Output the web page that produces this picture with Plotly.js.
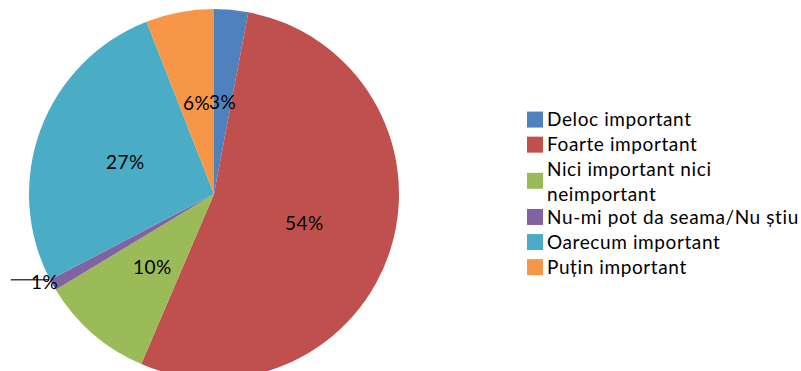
<!DOCTYPE html>
<html>
<head>
<meta charset="utf-8">
<script src="https://cdn.plot.ly/plotly-3.0.1.min.js"></script>
<style>
html,body{margin:0;padding:0;overflow:hidden;background:#fff;width:801px;height:371px;}
#chart{width:840px;height:380px;}
.legendtext{font-size:19px !important;letter-spacing:0.6px;}
.annotation-text{letter-spacing:0.5px;}
</style>
</head>
<body>
<div id="chart"></div>
<script>
const categories = ["Deloc important", "Foarte important", "Nici important nici<br>neimportant", "Nu-mi pot da seama/Nu știu", "Oarecum important", "Puțin important"];
const values = [3, 54, 10, 1, 27, 6];
const colors = ["#4F81BD", "#C0504D", "#9BBB59", "#8064A2", "#4BACC6", "#F79646"];

const W = 840, H = 380;
const cx = 214, cyTop = 194, R = 185;
const FONT = "Lato, 'Open Sans', sans-serif";

const total = values.reduce((a, b) => a + b, 0);
const annotations = [];
const shapes = [];
let cum = 0;
values.forEach((v, i) => {
  const mid = (cum + v / 2) / total * 2 * Math.PI;
  cum += v;
  const txt = v + "%";
  const base = {xref: "paper", yref: "paper", xanchor: "center", yanchor: "middle",
    text: txt, showarrow: false, font: {family: FONT, size: 19, color: "#000"}};
  if (v / total < 0.02) {
    const ex = cx + R * Math.sin(mid), ey = cyTop - R * Math.cos(mid) - 5;
    shapes.push({type: "line", xref: "paper", yref: "paper",
      x0: (ex - 42) / W, x1: (ex - 4) / W, y0: 1 - ey / H, y1: 1 - ey / H,
      line: {color: "#404040", width: 1.5}});
    annotations.push(Object.assign({}, base, {x: (ex - 8) / W, y: 1 - (ey + 2) / H}));
  } else {
    const r = 0.51 * R;
    const px = cx + r * Math.sin(mid), py = cyTop + 1 - r * Math.cos(mid);
    annotations.push(Object.assign({}, base, {x: px / W, y: 1 - py / H}));
  }
});

const trace = {
  type: "pie",
  labels: categories,
  values: values,
  marker: {colors: colors, line: {width: 0}},
  sort: false,
  direction: "clockwise",
  rotation: 0,
  textinfo: "none",
  hoverinfo: "none",
  domain: {x: [(cx - R) / W, (cx + R) / W], y: [(H - cyTop - R) / H, (H - cyTop + R) / H]}
};

const layout = {
  width: W, height: H,
  margin: {l: 0, r: 0, t: 0, b: 0},
  paper_bgcolor: "#fff",
  showlegend: true,
  legend: {x: 507 / W, xanchor: "left", y: 1 - 102 / H, yanchor: "top",
    font: {family: FONT, size: 17, color: "#000"}, valign: "middle", traceorder: "normal"},
  annotations: annotations,
  shapes: shapes
};

Plotly.newPlot("chart", [trace], layout, {displayModeBar: false, staticPlot: true}).then(gd => {
  gd.querySelectorAll(".legendpoints path").forEach(p => p.setAttribute("d", "M16,8H0V-8H16Z"));
});
</script>
</body>
</html>
